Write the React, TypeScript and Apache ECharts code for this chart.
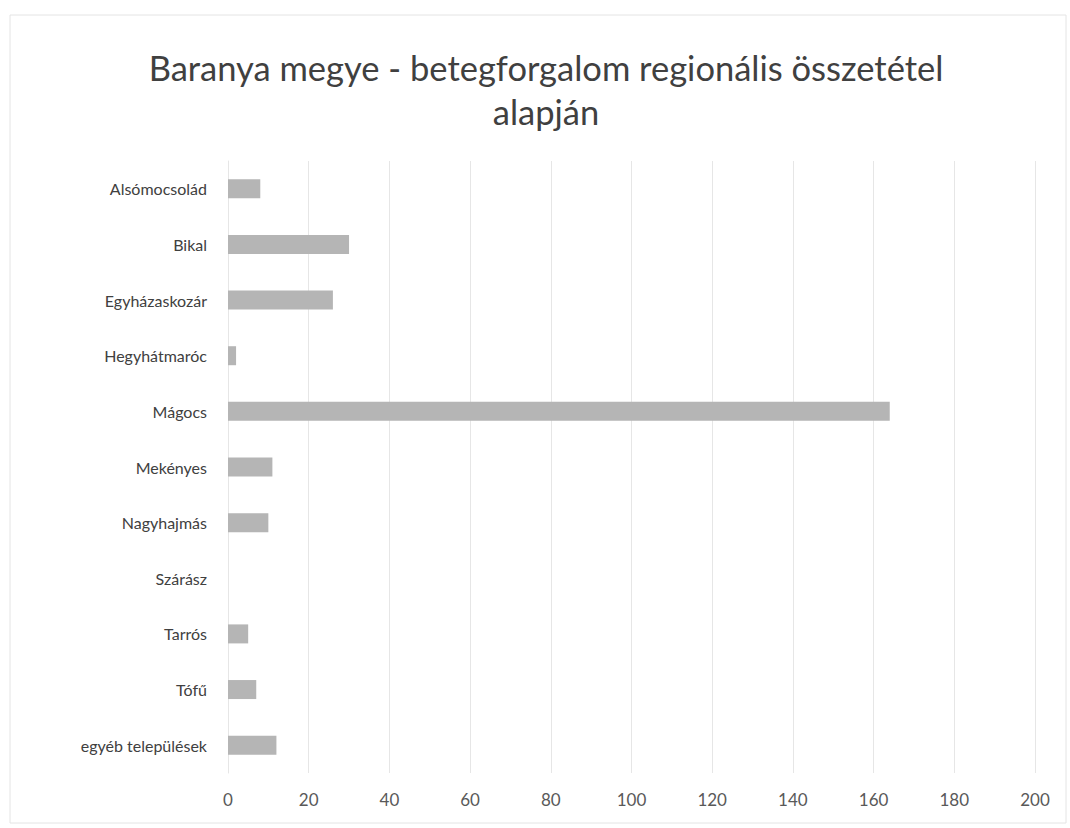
import React, { useEffect, useRef } from "react";
import * as echarts from "echarts";

const categories = [
  "Alsómocsolád",
  "Bikal",
  "Egyházaskozár",
  "Hegyhátmaróc",
  "Mágocs",
  "Mekényes",
  "Nagyhajmás",
  "Szárász",
  "Tarrós",
  "Tófű",
  "egyéb települések",
];
const values = [8, 30, 26, 2, 164, 11, 10, 0, 5, 7, 12];
const titleText = "Baranya megye - betegforgalom regionális összetétel\nalapján";

export default function App() {
  const ref = useRef<HTMLDivElement>(null);
  useEffect(() => {
    if (!ref.current) return;
    const chart = echarts.init(ref.current, undefined, { renderer: "svg" });
    chart.setOption({
      animation: false,
      backgroundColor: "#ffffff",
      graphic: [
        {
          type: "rect",
          shape: { x: 10, y: 15, width: 1056, height: 808 },
          style: { fill: "none", stroke: "#e4e4e4", lineWidth: 1 },
          silent: true,
        },
        {
          type: "text",
          x: 546,
          y: 45,
          silent: true,
          style: {
            text: titleText,
            align: "center",
            verticalAlign: "top",
            fontFamily: "Lato",
            fontSize: 34.5,
            lineHeight: 44,
            fill: "#404040",
          },
        },
      ],
      grid: { left: 228, right: 35, top: 161, bottom: 55, containLabel: false },
      xAxis: {
        type: "value",
        min: 0,
        max: 200,
        interval: 20,
        axisLine: { show: false },
        axisTick: { show: false },
        splitLine: { lineStyle: { color: "#e6e6e6", width: 1 } },
        axisLabel: {
          color: "#595959",
          fontFamily: "Lato",
          fontSize: 17,
          margin: 18,
        },
      },
      yAxis: {
        type: "category",
        data: categories,
        inverse: true,
        axisLine: { show: true, lineStyle: { color: "#e6e6e6" } },
        axisTick: { show: false },
        axisLabel: {
          color: "#404040",
          fontFamily: "Lato",
          fontSize: 16,
          margin: 21,
        },
      },
      series: [
        {
          type: "bar",
          data: values,
          barWidth: 19,
          itemStyle: { color: "#b5b5b5" },
        },
      ],
    });
    return () => chart.dispose();
  }, []);
  return (
    <div
      ref={ref}
      style={{ position: "absolute", left: 0, top: 0, width: 1070, height: 828 }}
    />
  );
}
